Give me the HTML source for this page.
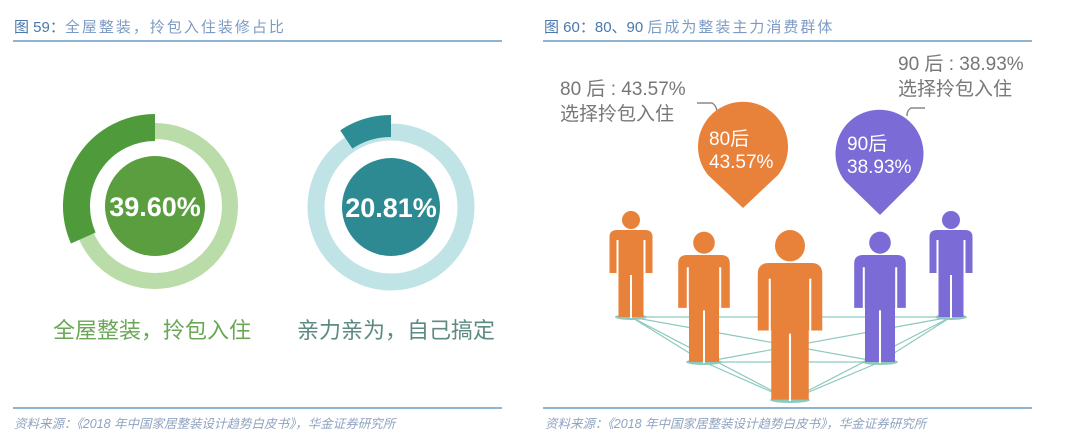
<!DOCTYPE html>
<html><head><meta charset="utf-8"><style>
html,body{margin:0;padding:0;background:#fff;}
body{width:1080px;height:445px;overflow:hidden;position:relative;font-family:"Liberation Sans","Noto Sans CJK SC",sans-serif;}
svg{position:absolute;left:0;top:0;}
</style></head><body>
<svg width="1080" height="445" viewBox="0 0 1080 445" xmlns="http://www.w3.org/2000/svg" font-family="Liberation Sans, Noto Sans CJK SC, sans-serif">
<!-- Left panel -->
<text x="14" y="32" font-size="15" fill="#4a78ad">图 59：<tspan fill="#7d9bc4" letter-spacing="2">全屋整装，拎包入住装修占比</tspan></text>
<line x1="13" y1="41" x2="502" y2="41" stroke="#4a86b8" stroke-width="1.2"/>
<circle cx="155" cy="206" r="75" fill="none" stroke="#b9dca8" stroke-width="16"/>
<path d="M155,127.5 A78.5,78.5 0 0 0 83.3,238" fill="none" stroke="#4f9b3c" stroke-width="27"/>
<circle cx="155" cy="206" r="50" fill="#5a9e3f"/>
<text x="155" y="216" font-size="27" font-weight="bold" fill="#fff" text-anchor="middle">39.60%</text>
<text x="152" y="338" font-size="22" fill="#6aa757" text-anchor="middle">全屋整装，拎包入住</text>

<circle cx="391" cy="207" r="75" fill="none" stroke="#c0e4e5" stroke-width="17"/>
<path d="M391,126 A81,81 0 0 0 346.3,139.5" fill="none" stroke="#2e8c94" stroke-width="22"/>
<circle cx="391" cy="207" r="49" fill="#2e8a92"/>
<text x="391" y="217" font-size="27" font-weight="bold" fill="#fff" text-anchor="middle">20.81%</text>
<text x="396" y="338" font-size="22" fill="#5d8a82" text-anchor="middle">亲力亲为，自己搞定</text>

<line x1="13" y1="408" x2="502" y2="408" stroke="#4a86b8" stroke-width="1.2"/>
<text x="14" y="428" font-size="12.5" font-style="italic" fill="#8fa3c0">资料来源：《2018 年中国家居整装设计趋势白皮书》，华金证券研究所</text>

<!-- Right panel -->
<text x="544" y="32" font-size="15" fill="#4a78ad">图 60：80、90 <tspan fill="#7d9bc4" letter-spacing="2">后成为整装主力消费群体</tspan></text>
<line x1="543" y1="41" x2="1032" y2="41" stroke="#4a86b8" stroke-width="1.2"/>

<text x="560" y="95" font-size="19" fill="#777">80 后 : 43.57%</text>
<text x="560" y="120" font-size="19" fill="#777">选择拎包入住</text>
<text x="898" y="70" font-size="19" fill="#777">90 后 : 38.93%</text>
<text x="898" y="95" font-size="19" fill="#777">选择拎包入住</text>

<path d="M697,103 H712 Q716,105 717,111" fill="none" stroke="#888" stroke-width="1.5"/>
<path d="M925,108 H911 Q907,110 907,116" fill="none" stroke="#888" stroke-width="1.5"/>

<path d="M743,208 L708,175 A45,45 0 1 1 778,175 Z" fill="#e8813a"/>
<text x="709" y="145" font-size="19" fill="#fff">80后</text>
<text x="709" y="168" font-size="19" fill="#fff">43.57%</text>
<path d="M880,215 L845,181 A44,44 0 1 1 914,181 Z" fill="#7b6bd6"/>
<text x="847" y="150" font-size="19" fill="#fff">90后</text>
<text x="847" y="173" font-size="19" fill="#fff">38.93%</text>

<g stroke="#8cc9bf" stroke-width="1.2">
<line x1="631" y1="317" x2="704" y2="362"/><line x1="631" y1="317" x2="790" y2="400"/><line x1="631" y1="317" x2="880" y2="362"/><line x1="631" y1="317" x2="951" y2="317"/>
<line x1="704" y1="362" x2="790" y2="400"/><line x1="704" y1="362" x2="880" y2="362"/><line x1="704" y1="362" x2="951" y2="317"/>
<line x1="790" y1="400" x2="880" y2="362"/><line x1="790" y1="400" x2="951" y2="317"/><line x1="880" y1="362" x2="951" y2="317"/>
</g>
<g fill="#8cc9bf">
<ellipse cx="631" cy="317" rx="16" ry="3"/><ellipse cx="704" cy="362" rx="18" ry="3"/><ellipse cx="790" cy="400" rx="20" ry="3"/><ellipse cx="880" cy="362" rx="18" ry="3"/><ellipse cx="951" cy="317" rx="16" ry="3"/>
</g>

<g transform="translate(631,230)" fill="#e8813a">
<circle cx="0" cy="-10" r="9"/><path d="M-21.5,43 V7 Q-21.5,0 -14,0 H14 Q21.5,0 21.5,7 V43 H12.5 V87 H-12.5 V43 Z"/>
<g stroke="#fff" stroke-width="2"><line x1="-13.5" y1="10" x2="-13.5" y2="44"/><line x1="13.5" y1="10" x2="13.5" y2="44"/><line x1="0" y1="45" x2="0" y2="88"/></g></g>
<g transform="translate(704,255) scale(1.2,1.23)" fill="#e8813a">
<circle cx="0" cy="-10" r="9"/><path d="M-21.5,43 V7 Q-21.5,0 -14,0 H14 Q21.5,0 21.5,7 V43 H12.5 V87 H-12.5 V43 Z"/>
<g stroke="#fff" stroke-width="1.7"><line x1="-13.5" y1="10" x2="-13.5" y2="44"/><line x1="13.5" y1="10" x2="13.5" y2="44"/><line x1="0" y1="45" x2="0" y2="88"/></g></g>
<g transform="translate(790,263) scale(1.5,1.57)" fill="#e8813a">
<circle cx="0" cy="-11" r="10"/><path d="M-21.5,43 V7 Q-21.5,0 -14,0 H14 Q21.5,0 21.5,7 V43 H12.5 V87 H-12.5 V43 Z"/>
<g stroke="#fff" stroke-width="1.4"><line x1="-13.5" y1="10" x2="-13.5" y2="44"/><line x1="13.5" y1="10" x2="13.5" y2="44"/><line x1="0" y1="45" x2="0" y2="88"/></g></g>
<g transform="translate(880,255) scale(1.2,1.23)" fill="#7b6bd6">
<circle cx="0" cy="-10" r="9"/><path d="M-21.5,43 V7 Q-21.5,0 -14,0 H14 Q21.5,0 21.5,7 V43 H12.5 V87 H-12.5 V43 Z"/>
<g stroke="#fff" stroke-width="1.7"><line x1="-13.5" y1="10" x2="-13.5" y2="44"/><line x1="13.5" y1="10" x2="13.5" y2="44"/><line x1="0" y1="45" x2="0" y2="88"/></g></g>
<g transform="translate(951,230)" fill="#7b6bd6">
<circle cx="0" cy="-10" r="9"/><path d="M-21.5,43 V7 Q-21.5,0 -14,0 H14 Q21.5,0 21.5,7 V43 H12.5 V87 H-12.5 V43 Z"/>
<g stroke="#fff" stroke-width="2"><line x1="-13.5" y1="10" x2="-13.5" y2="44"/><line x1="13.5" y1="10" x2="13.5" y2="44"/><line x1="0" y1="45" x2="0" y2="88"/></g></g>

<line x1="543" y1="408" x2="1032" y2="408" stroke="#4a86b8" stroke-width="1.2"/>
<text x="545" y="428" font-size="12.5" font-style="italic" fill="#8fa3c0">资料来源：《2018 年中国家居整装设计趋势白皮书》，华金证券研究所</text>
</svg>
</body></html>
